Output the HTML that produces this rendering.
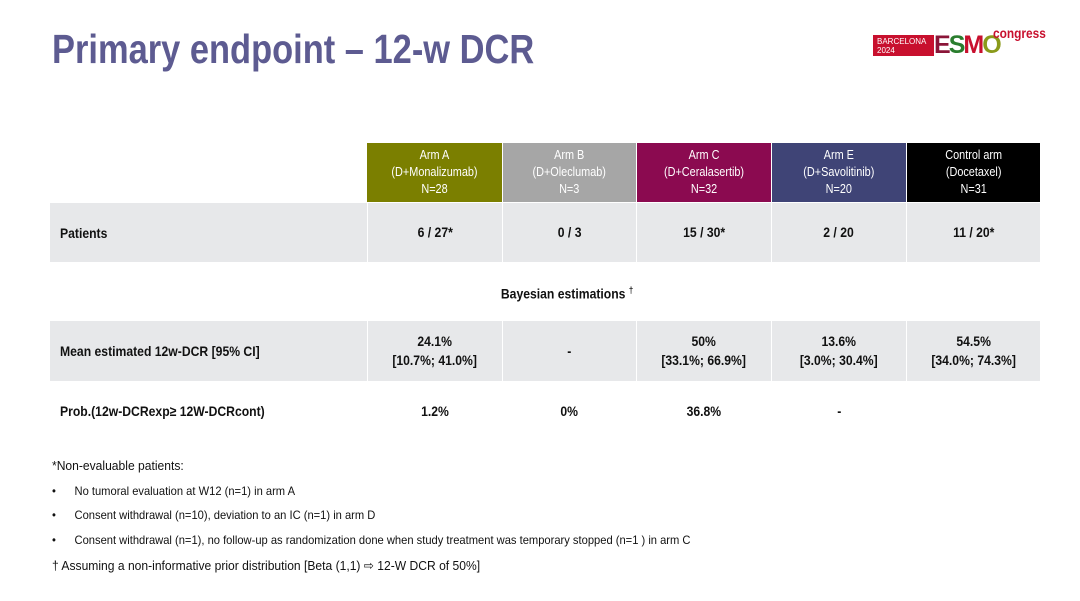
<!DOCTYPE html>
<html><head><meta charset="utf-8"><style>
body{margin:0;width:1080px;height:601px;background:#fff;position:relative;overflow:hidden;font-family:"Liberation Sans",Arial,sans-serif;color:#111}
.a{position:absolute}
.n{display:inline-block;transform:scaleX(.87)}
.title{left:52px;top:26px;font-size:41px;font-weight:bold;color:#5d5b91;transform:scaleX(.84);transform-origin:left top;white-space:nowrap}
.c{position:absolute;display:flex;align-items:center;justify-content:center;text-align:center;font-weight:bold}
.h{color:#fff;font-size:12.5px;line-height:17px;font-weight:normal}
.g{background:#e7e8ea}
.v{font-size:14px;line-height:19px}
.l{justify-content:flex-start;padding-left:10px;font-size:14px}
.foot{font-size:12px;white-space:nowrap;transform:scaleX(.93);transform-origin:left top}
</style></head><body>
<div class="a title">Primary endpoint – 12-w DCR</div>
<div class="a" style="left:873px;top:35px;width:61px;height:21px;background:#c8102e;color:#fff;font-size:8px;line-height:9px;padding:2px 0 0 4px;box-sizing:border-box">BARCELONA<br>2024</div>
<div class="a" style="left:934px;top:32px;font-size:25px;font-weight:bold;letter-spacing:-2px;line-height:26px"><span style="color:#8a1538">E</span><span style="color:#2a7d2e">S</span><span style="color:#c8102e">M</span><span style="color:#8a9a1a">O</span></div>
<div class="a" style="left:993px;top:25px;font-size:14px;font-weight:bold;color:#c8102e;transform:scaleX(.85);transform-origin:left top">congress</div>

<div class="c h" style="left:367px;top:143px;width:135px;height:59px;background:#7b7f00"><span class="n">Arm A<br>(D+Monalizumab)<br>N=28</span></div>
<div class="c h" style="left:503px;top:143px;width:133px;height:59px;background:#a6a6a6"><span class="n">Arm B<br>(D+Oleclumab)<br>N=3</span></div>
<div class="c h" style="left:637px;top:143px;width:134px;height:59px;background:#8b0a50"><span class="n">Arm C<br>(D+Ceralasertib)<br>N=32</span></div>
<div class="c h" style="left:772px;top:143px;width:134px;height:59px;background:#3f4476"><span class="n">Arm E<br>(D+Savolitinib)<br>N=20</span></div>
<div class="c h" style="left:907px;top:143px;width:133px;height:59px;background:#000"><span class="n">Control arm<br>(Docetaxel)<br>N=31</span></div>

<div class="c g l" style="left:50px;top:203px;width:307px;height:59px"><span class="n" style="transform-origin:left">Patients</span></div>
<div class="c g v" style="left:368px;top:203px;width:134px;height:59px"><span class="n">6 / 27*</span></div>
<div class="c g v" style="left:503px;top:203px;width:133px;height:59px"><span class="n">0 / 3</span></div>
<div class="c g v" style="left:637px;top:203px;width:134px;height:59px"><span class="n">15 / 30*</span></div>
<div class="c g v" style="left:772px;top:203px;width:134px;height:59px"><span class="n">2 / 20</span></div>
<div class="c g v" style="left:907px;top:203px;width:133px;height:59px"><span class="n">11 / 20*</span></div>

<div class="c v" style="left:367px;top:282px;width:400px;height:20px"><span class="n">Bayesian estimations <sup style="font-size:9px">†</sup></span></div>

<div class="c g l" style="left:50px;top:321px;width:307px;height:60px"><span class="n" style="transform-origin:left">Mean estimated 12w-DCR [95% CI]</span></div>
<div class="c g v" style="left:368px;top:321px;width:134px;height:60px"><span class="n">24.1%<br>[10.7%; 41.0%]</span></div>
<div class="c g v" style="left:503px;top:321px;width:133px;height:60px"><span class="n">-</span></div>
<div class="c g v" style="left:637px;top:321px;width:134px;height:60px"><span class="n">50%<br>[33.1%; 66.9%]</span></div>
<div class="c g v" style="left:772px;top:321px;width:134px;height:60px"><span class="n">13.6%<br>[3.0%; 30.4%]</span></div>
<div class="c g v" style="left:907px;top:321px;width:133px;height:60px"><span class="n">54.5%<br>[34.0%; 74.3%]</span></div>

<div class="c l" style="left:50px;top:394px;width:317px;height:34px;font-size:14px"><span class="n" style="transform-origin:left">Prob.(12w-DCRexp≥ 12W-DCRcont)</span></div>
<div class="c v" style="left:368px;top:394px;width:134px;height:34px"><span class="n">1.2%</span></div>
<div class="c v" style="left:503px;top:394px;width:133px;height:34px"><span class="n">0%</span></div>
<div class="c v" style="left:637px;top:394px;width:134px;height:34px"><span class="n">36.8%</span></div>
<div class="c v" style="left:772px;top:394px;width:134px;height:34px"><span class="n">-</span></div>

<div class="a foot" style="left:52px;top:458px;font-size:13px">*Non-evaluable patients:</div>
<div class="a foot" style="left:52px;top:484px">•&nbsp;&nbsp;&nbsp;&nbsp;&nbsp;&nbsp;No tumoral evaluation at W12 (n=1) in arm A</div>
<div class="a foot" style="left:52px;top:508px">•&nbsp;&nbsp;&nbsp;&nbsp;&nbsp;&nbsp;Consent withdrawal (n=10), deviation to an IC (n=1) in arm D</div>
<div class="a foot" style="left:52px;top:533px">•&nbsp;&nbsp;&nbsp;&nbsp;&nbsp;&nbsp;Consent withdrawal (n=1), no follow-up as randomization done when study treatment was temporary stopped (n=1 ) in arm C</div>
<div class="a foot" style="left:52px;top:558px;font-size:13px">† Assuming a non-informative prior distribution [Beta (1,1) ⇨ 12-W DCR of 50%]</div>
</body></html>
